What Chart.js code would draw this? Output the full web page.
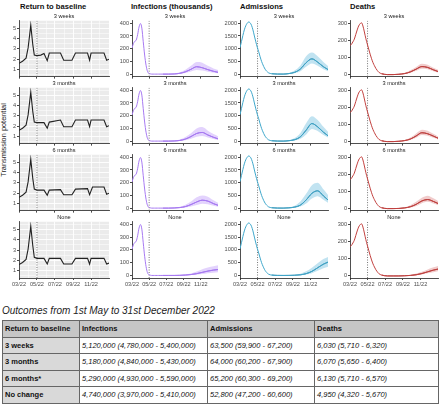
<!DOCTYPE html>
<html>
<head>
<meta charset="utf-8">
<script src="https://cdn.jsdelivr.net/npm/chart.js@4.4.0/dist/chart.umd.min.js"></script>
<style>
body { margin: 0; background: #fff; font-family: "Liberation Sans", Arial, sans-serif; }
#wrap { position: relative; width: 440px; height: 406px; overflow: hidden; }
#wrap canvas { position: absolute; }
.coltitle { position: absolute; top: 2px; font-weight: bold; font-size: 7.6px; line-height: 9px; color: #111; white-space: nowrap; }
#ytitle { position: absolute; left: -41px; top: 136px; width: 90px; text-align: center; font-size: 7.4px; line-height: 8px; color: #222; transform: rotate(-90deg); white-space: nowrap; }
#ttitle { position: absolute; left: 2px; top: 305px; font-size: 10px; font-style: italic; color: #222; white-space: nowrap; }
table { position: absolute; left: 2px; top: 320px; width: 436px; border-collapse: collapse; font-size: 7.5px; color: #111; table-layout: fixed; border: 1.5px solid #444; }
td, th { border: 1px solid #666; height: 15.5px; padding: 0 0 0 2px; text-align: left; white-space: nowrap; overflow: hidden; }
th { background: #c6c6c6; font-weight: bold; }
td.lab { background: #d9d9d9; font-weight: bold; }
td.val { font-style: italic; }
</style>
</head>
<body>
<div id="wrap">
  <div class="coltitle" style="left:20px">Return to baseline</div>
  <div class="coltitle" style="left:131px">Infections (thousands)</div>
  <div class="coltitle" style="left:240px">Admissions</div>
  <div class="coltitle" style="left:350px">Deaths</div>
  <div id="ytitle">Transmission potential</div>
  <div id="ttitle">Outcomes from 1st May to 31st December 2022</div>
  <table>
    <colgroup><col style="width:77px"><col style="width:128px"><col style="width:107px"><col style="width:124px"></colgroup>
    <tr><th>Return to baseline</th><th>Infections</th><th>Admissions</th><th>Deaths</th></tr>
    <tr><td class="lab">3 weeks</td><td class="val">5,120,000 (4,780,000 - 5,400,000)</td><td class="val">63,500 (59,900 - 67,200)</td><td class="val">6,030 (5,710 - 6,320)</td></tr>
    <tr><td class="lab">3 months</td><td class="val">5,180,000 (4,840,000 - 5,430,000)</td><td class="val">64,000 (60,200 - 67,900)</td><td class="val">6,070 (5,650 - 6,400)</td></tr>
    <tr><td class="lab">6 months*</td><td class="val">5,290,000 (4,930,000 - 5,590,000)</td><td class="val">65,200 (60,300 - 69,200)</td><td class="val">6,130 (5,710 - 6,570)</td></tr>
    <tr><td class="lab">No change</td><td class="val">4,740,000 (3,970,000 - 5,410,000)</td><td class="val">52,800 (47,200 - 60,600)</td><td class="val">4,950 (4,320 - 5,670)</td></tr>
  </table>
</div>
<script>
// time axis is days since 1 March 2022
var monthDays = [0, 31, 61, 92, 122, 153, 184, 214, 245, 275];
var monthLabels = ['03/22', '', '05/22', '', '07/22', '', '09/22', '', '11/22', ''];
var majorDays = [0, 61, 122, 184, 245];
var scenarios = ['3 weeks', '3 months', '6 months', 'None'];
var vlineDay = 61;

// transmission potential, one line per scenario
var tp3wDays = [0, 12, 24, 31, 40, 47, 52, 61, 74, 85, 96, 103, 141, 152, 180, 192, 233, 240, 245, 289, 298, 306];
var tp3w     = [1.6, 1.8, 2.1, 3.1, 5.3, 3.4, 2.4, 2.35, 2.4, 2.55, 1.85, 2.6, 2.6, 1.9, 1.9, 2.6, 2.6, 1.9, 2.6, 2.6, 1.9, 2.0];
var tp3mDays = [0, 12, 24, 31, 40, 47, 52, 61, 85, 96, 103, 141, 152, 180, 192, 233, 240, 245, 289, 298, 306];
var tp3m     = [1.6, 1.8, 2.1, 3.1, 5.3, 3.4, 2.4, 2.35, 2.35, 1.8, 2.4, 2.6, 1.95, 1.95, 2.6, 2.6, 1.95, 2.6, 2.6, 1.95, 2.05];
var tp6mDays = [0, 12, 24, 31, 40, 47, 52, 61, 85, 96, 103, 141, 152, 180, 192, 233, 240, 250, 289, 298, 306];
var tp6m     = [1.6, 1.8, 2.1, 3.1, 5.3, 3.4, 2.4, 2.3, 2.3, 1.8, 2.3, 2.35, 1.85, 1.85, 2.4, 2.45, 1.85, 2.6, 2.6, 1.9, 2.0];
var tpNoDays = [0, 12, 24, 31, 40, 47, 52, 61, 85, 96, 103, 141, 152, 180, 192, 233, 240, 245, 289, 298, 306];
var tpNo     = [1.6, 1.8, 2.1, 3.1, 5.3, 3.4, 2.3, 2.2, 2.2, 1.65, 2.2, 2.2, 1.65, 1.65, 2.2, 2.2, 1.65, 2.2, 2.2, 1.65, 1.75];

// first wave (same in every scenario)
var days1 = [0, 5, 10, 15, 20, 25, 30, 35, 40, 45, 50, 55, 60, 65, 70, 75, 80, 85, 90, 95, 100];
var infWave1 = [205, 240, 258, 268, 310, 370, 398, 362, 255, 150, 70, 22, 6, 2, 0, 0, 0, 0, 0, 0, 0];
var admWave1 = [1040, 1280, 1520, 1740, 1900, 2000, 2050, 2020, 1920, 1740, 1500, 1270, 1060, 880, 680, 500, 360, 240, 150, 90, 45];
var dthWave1 = [170, 178, 192, 208, 235, 262, 285, 298, 304, 285, 250, 212, 180, 150, 120, 93, 70, 52, 36, 24, 14];

// second wave: median and 95% band per scenario
var days2 = [110, 130, 150, 170, 190, 210, 230, 250, 270, 290, 306];

var inf3w = [0, 0, 1, 6, 18, 38, 58, 50, 35, 22, 14];
var inf3wLo = [0, 0, 0, 2, 8, 20, 32, 28, 18, 10, 6];
var inf3wHi = [0, 0, 3, 14, 35, 65, 95, 90, 65, 45, 32];
var inf3m = [0, 0, 1, 5, 16, 36, 60, 68, 48, 30, 18];
var inf3mLo = [0, 0, 0, 2, 7, 18, 35, 40, 28, 16, 9];
var inf3mHi = [0, 0, 3, 12, 32, 62, 100, 110, 82, 55, 38];
var inf6m = [0, 0, 1, 4, 12, 28, 48, 62, 55, 35, 22];
var inf6mLo = [0, 0, 0, 1, 5, 13, 25, 35, 30, 18, 11];
var inf6mHi = [0, 0, 2, 10, 26, 52, 85, 100, 90, 62, 42];
var infNo = [0, 0, 0, 1, 3, 7, 14, 24, 34, 42, 46];
var infNoLo = [0, 0, 0, 0, 1, 3, 6, 11, 17, 22, 25];
var infNoHi = [0, 0, 1, 3, 8, 16, 30, 48, 62, 72, 80];

var adm3w = [15, 2, 0, 20, 70, 200, 450, 600, 470, 290, 180];
var adm3wLo = [8, 0, 0, 8, 35, 110, 290, 420, 330, 190, 110];
var adm3wHi = [25, 5, 10, 45, 140, 340, 700, 850, 700, 480, 320];
var adm3m = [15, 2, 0, 15, 55, 170, 430, 690, 560, 350, 210];
var adm3mLo = [8, 0, 0, 5, 25, 90, 260, 480, 400, 240, 140];
var adm3mHi = [25, 5, 8, 35, 120, 320, 700, 980, 830, 560, 370];
var adm6m = [15, 2, 0, 10, 40, 120, 320, 580, 680, 480, 320];
var adm6mLo = [8, 0, 0, 3, 18, 60, 180, 380, 470, 330, 210];
var adm6mHi = [25, 5, 6, 28, 95, 260, 560, 900, 1000, 740, 520];
var admNo = [15, 2, 0, 2, 8, 25, 70, 160, 300, 440, 520];
var admNoLo = [8, 0, 0, 0, 3, 10, 35, 90, 180, 280, 340];
var admNoHi = [25, 5, 3, 8, 25, 70, 160, 300, 480, 640, 720];

var dth3w = [5, 0, 0, 2, 6, 16, 32, 47, 42, 28, 18];
var dth3wLo = [3, 0, 0, 1, 3, 10, 22, 35, 32, 20, 12];
var dth3wHi = [8, 1, 1, 4, 11, 26, 45, 64, 58, 40, 28];
var dth3m = [5, 0, 0, 2, 6, 15, 33, 52, 46, 32, 20];
var dth3mLo = [3, 0, 0, 1, 3, 9, 22, 38, 34, 22, 13];
var dth3mHi = [8, 1, 1, 4, 10, 24, 48, 70, 64, 46, 30];
var dth6m = [5, 0, 0, 1, 4, 11, 25, 45, 53, 42, 30];
var dth6mLo = [3, 0, 0, 0, 2, 6, 15, 32, 40, 30, 20];
var dth6mHi = [8, 1, 1, 3, 8, 20, 40, 64, 76, 60, 44];
var dthNo = [5, 0, 0, 0, 1, 3, 7, 14, 24, 34, 40];
var dthNoLo = [3, 0, 0, 0, 0, 1, 3, 8, 15, 22, 27];
var dthNoHi = [8, 1, 1, 1, 3, 7, 14, 24, 38, 50, 58];

var FONT = '"Liberation Sans", Arial, sans-serif';
var colX = [0, 112, 220, 330];
var colW = [112, 108, 110, 110];
var yW = [19, 20, 20, 20];
var padR = [3, 2, 2, 2];

function pts(days, vals) {
    return days.map(function (d, i) { return { x: d, y: vals[i] }; });
}

var panelBg = {
    id: 'panelBg',
    beforeDraw: function (chart, args, opts) {
        if (!opts.color) return;
        var a = chart.chartArea;
        var ctx = chart.ctx;
        ctx.save();
        ctx.fillStyle = opts.color;
        ctx.fillRect(a.left, a.top, a.right - a.left, a.bottom - a.top);
        ctx.restore();
    }
};

function isMajor(v) { return majorDays.indexOf(v) >= 0; }

function makeChart(col, row, datasets, yMin, yMax, yTicks, yLabel) {
    var wrap = document.getElementById('wrap');
    var c = document.createElement('canvas');
    var last = row === 3;
    var grey = col === 0;
    c.width = colW[col];
    c.height = last ? 78 : 69;
    c.style.left = colX[col] + 'px';
    c.style.top = (12 + 67 * row) + 'px';
    wrap.appendChild(c);

    datasets.push({
        data: [{ x: vlineDay, y: yMin }, { x: vlineDay, y: yMax }],
        borderColor: '#666', borderWidth: 0.9, borderDash: [1, 1.5], fill: false
    });

    new Chart(c.getContext('2d'), {
        type: 'line',
        data: { datasets: datasets },
        options: {
            animation: false,
            responsive: false,
            devicePixelRatio: 1,
            layout: { padding: { left: 0, right: padR[col], top: 0, bottom: 0 } },
            plugins: {
                legend: { display: false },
                tooltip: { enabled: false },
                panelBg: { color: grey ? '#ebebeb' : null },
                title: {
                    display: true, fullSize: false, text: scenarios[row], color: '#1a1a1a',
                    font: { size: 5.6, family: FONT, weight: 'normal' },
                    padding: { top: 1, bottom: 1 }
                }
            },
            elements: { point: { radius: 0 } },
            scales: {
                x: {
                    type: 'linear', min: 0, max: 306,
                    afterBuildTicks: function (s) {
                        s.ticks = (grey ? monthDays : majorDays).map(function (v) { return { value: v }; });
                    },
                    afterFit: function (s) { s.height = last ? 13 : 2; },
                    ticks: {
                        display: last, autoSkip: false, maxRotation: 0, padding: 1,
                        font: { size: 5.6, family: FONT }, color: '#4d4d4d',
                        callback: function (v) { return monthLabels[monthDays.indexOf(v)]; }
                    },
                    grid: {
                        drawOnChartArea: grey, color: '#ffffff', tickLength: 2,
                        lineWidth: function (ctx) { return ctx.tick && isMajor(ctx.tick.value) ? 0.9 : 0.5; },
                        tickColor: function (ctx) { return ctx.tick && isMajor(ctx.tick.value) ? '#333' : 'rgba(0,0,0,0)'; }
                    },
                    border: { display: true, color: '#222', width: 0.8 }
                },
                y: {
                    min: yMin, max: yMax,
                    afterBuildTicks: function (s) {
                        s.ticks = yTicks.map(function (v) { return { value: v }; });
                    },
                    afterFit: function (s) { s.width = yW[col]; },
                    ticks: {
                        autoSkip: false, padding: 1, font: { size: 5.6, family: FONT }, color: '#4d4d4d',
                        callback: yLabel
                    },
                    grid: {
                        drawOnChartArea: grey, color: '#ffffff', tickLength: 2,
                        lineWidth: function (ctx) { return ctx.tick && Number.isInteger(ctx.tick.value) ? 0.9 : 0.5; },
                        tickColor: function (ctx) { return ctx.tick && yLabel(ctx.tick.value) !== '' ? '#333' : 'rgba(0,0,0,0)'; }
                    },
                    border: { display: true, color: '#222', width: 0.8 }
                }
            }
        },
        plugins: [panelBg]
    });
}

function tpLabel(v) { return Number.isInteger(v) ? String(v) : ''; }
function plainLabel(v) { return String(v); }

function outcome(col, row, wave1, mid, lo, hi, line, dark, band, yMin, yMax, yTicks) {
    var sets = [
        { data: pts(days1.concat(days2), wave1.concat(mid)), borderColor: line, borderWidth: 1,
          cubicInterpolationMode: 'monotone', fill: false },
        { data: pts(days2, mid), borderColor: dark, borderWidth: 0.9,
          cubicInterpolationMode: 'monotone', fill: false },
        { data: pts(days2, hi), borderColor: 'rgba(0,0,0,0)', borderWidth: 0,
          cubicInterpolationMode: 'monotone', fill: false },
        { data: pts(days2, lo), borderColor: 'rgba(0,0,0,0)', borderWidth: 0,
          cubicInterpolationMode: 'monotone', fill: '-1', backgroundColor: band }
    ];
    makeChart(col, row, sets, yMin, yMax, yTicks, plainLabel);
}

var tpDays = [tp3wDays, tp3mDays, tp6mDays, tpNoDays];
var tpVals = [tp3w, tp3m, tp6m, tpNo];
var infMid = [inf3w, inf3m, inf6m, infNo], infLo = [inf3wLo, inf3mLo, inf6mLo, infNoLo], infHi = [inf3wHi, inf3mHi, inf6mHi, infNoHi];
var admMid = [adm3w, adm3m, adm6m, admNo], admLo = [adm3wLo, adm3mLo, adm6mLo, admNoLo], admHi = [adm3wHi, adm3mHi, adm6mHi, admNoHi];
var dthMid = [dth3w, dth3m, dth6m, dthNo], dthLo = [dth3wLo, dth3mLo, dth6mLo, dthNoLo], dthHi = [dth3wHi, dth3mHi, dth6mHi, dthNoHi];

for (var r = 0; r < 4; r++) {
    makeChart(0, r, [
        { data: pts(tpDays[r], tpVals[r]), borderColor: '#222', borderWidth: 1.1, tension: 0, fill: false }
    ], 0.3, 5.75, [0.5, 1, 1.5, 2, 2.5, 3, 3.5, 4, 4.5, 5, 5.5], tpLabel);
    outcome(1, r, infWave1, infMid[r], infLo[r], infHi[r], '#a77af2', '#9a6ae8', 'rgba(185,145,250,0.4)', -20, 420, [0, 100, 200, 300, 400]);
    outcome(2, r, admWave1, admMid[r], admLo[r], admHi[r], '#3fa7cb', '#2a7f9e', 'rgba(100,185,220,0.4)', -100, 2100, [0, 500, 1000, 1500, 2000]);
    outcome(3, r, dthWave1, dthMid[r], dthLo[r], dthHi[r], '#c2413f', '#a83232', 'rgba(215,110,110,0.35)', -12, 316, [0, 100, 200, 300]);
}
</script>
</body>
</html>
